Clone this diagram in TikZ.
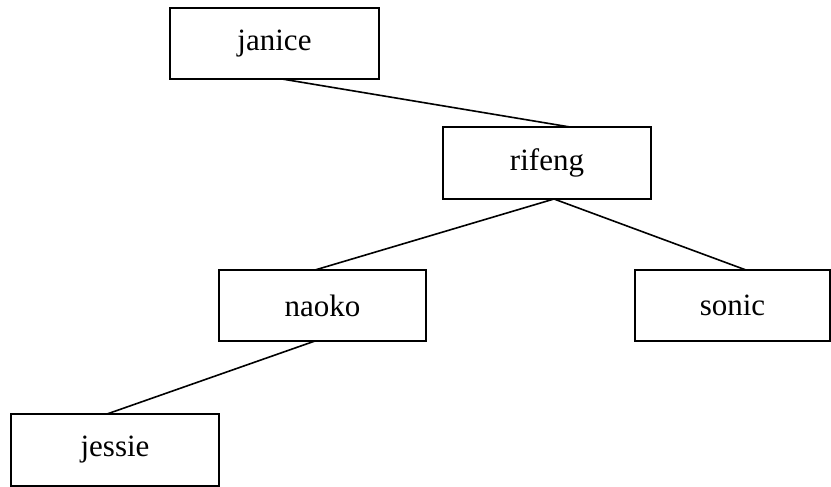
\documentclass[tikz,border=0pt]{standalone}
\usepackage{fontspec}
\setmainfont{Liberation Serif}
\usetikzlibrary{calc}
\begin{document}
\begin{tikzpicture}[x=1pt,y=-1pt,
  box/.style={draw,line width=1.5pt,inner sep=0pt,outer sep=0pt,minimum height=71pt,font=\fontsize{31}{37}\selectfont},
  link/.style={line width=1.6pt}]
\useasboundingbox (0,0) rectangle (831,487);
\node[box,minimum width=209pt] (janice) at (274.5,43.5) {janice};
\node[box,minimum width=208pt,minimum height=72pt] (rifeng) at (547,163) {rifeng};
\node[box,minimum width=207pt] (naoko) at (322.5,305.5) {naoko};
\node[box,minimum width=195pt] (sonic) at (732.5,305.5) {sonic};
\node[box,minimum width=208pt,minimum height=72pt] (jessie) at (115,450) {jessie};
\draw[link] ($(janice.south)+(7.5,0)$) -- ($(rifeng.north)+(23,0)$);
\draw[link] ($(rifeng.south)+(7,0)$) -- ($(naoko.north)+(-7.5,0)$);
\draw[link] ($(rifeng.south)+(7,0)$) -- ($(sonic.north)+(13.5,0)$);
\draw[link] ($(naoko.south)+(-7.5,0)$) -- ($(jessie.north)+(-8,0)$);
\end{tikzpicture}
\end{document}
